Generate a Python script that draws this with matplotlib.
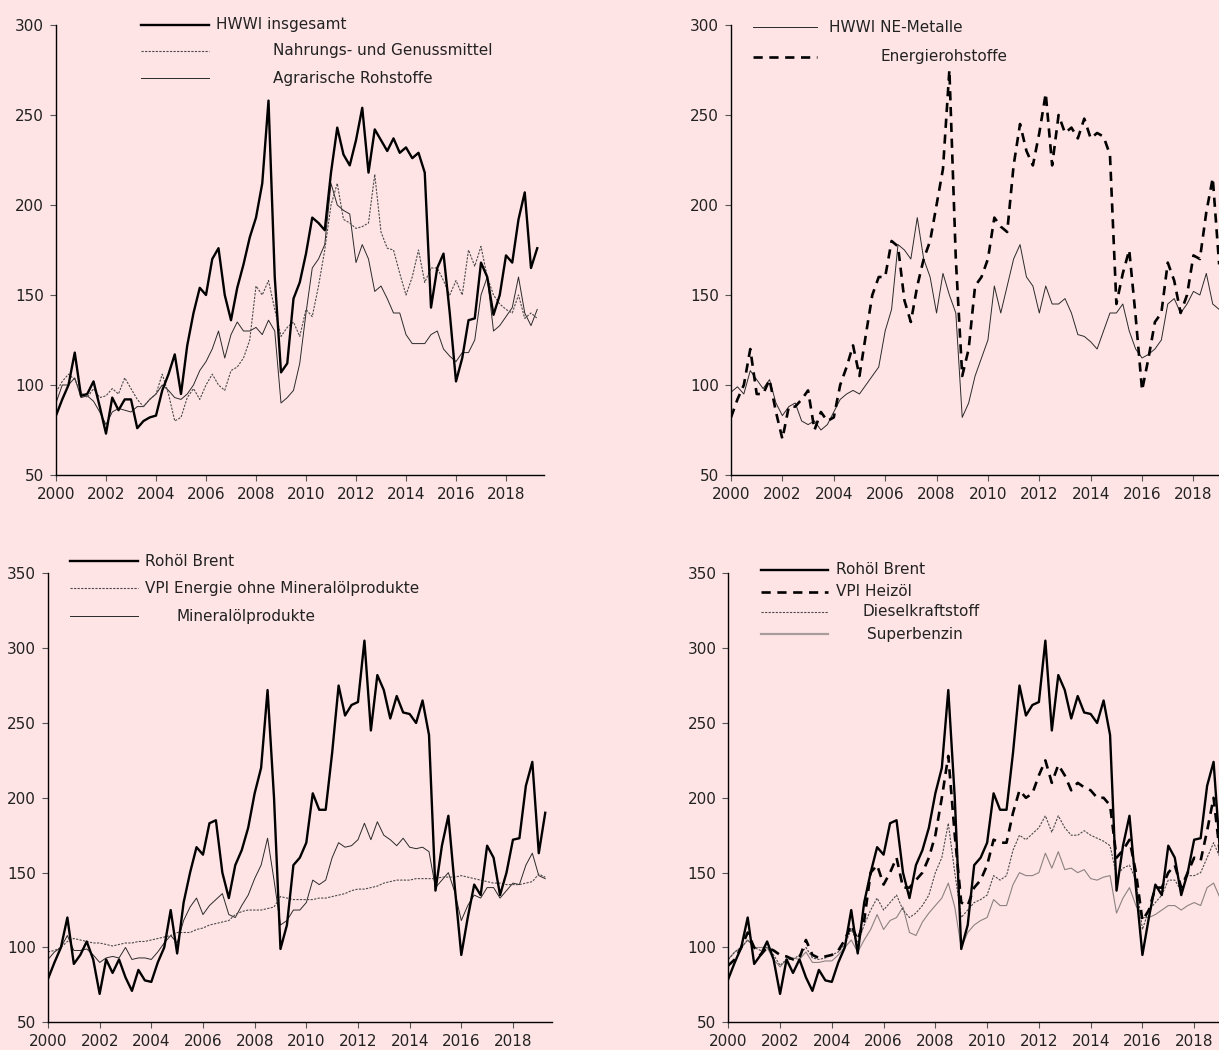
import matplotlib
matplotlib.use("Agg")
import matplotlib.pyplot as plt
from matplotlib.lines import Line2D
import numpy as np

# quarterly index values, starting 2000 Q1
hwwi_total = [83, 92, 100, 118, 94, 95, 102, 88, 73, 93, 86, 92, 92, 76, 80, 82,
              83, 97, 106, 117, 95, 122, 140, 154, 150, 170, 176, 150, 136, 154, 167, 182,
              193, 212, 258, 160, 107, 112, 148, 157, 173, 193, 190, 186, 218, 243, 228, 222,
              236, 254, 218, 242, 236, 230, 237, 229, 232, 226, 229, 218, 143, 165, 173, 140,
              102, 115, 136, 137, 168, 160, 139, 150, 172, 168, 192, 207, 165, 176]
food = [96, 102, 106, 103, 96, 93, 98, 93, 94, 98, 95, 104, 98, 92, 88, 92,
        95, 106, 95, 80, 82, 93, 98, 92, 100, 106, 100, 97, 108, 110, 115, 125,
        155, 150, 158, 142, 127, 132, 135, 127, 142, 138, 155, 175, 200, 212, 192, 190,
        187, 188, 190, 217, 185, 176, 175, 162, 150, 160, 175, 157, 165, 165, 158, 150,
        158, 150, 175, 166, 177, 160, 150, 145, 142, 140, 150, 137, 140, 137]
agrar = [90, 100, 100, 104, 93, 94, 91, 85, 78, 85, 87, 86, 85, 88, 88, 92,
         95, 100, 97, 93, 92, 95, 100, 108, 113, 120, 130, 115, 128, 135, 130, 130,
         132, 128, 136, 130, 90, 93, 97, 112, 140, 165, 170, 178, 212, 200, 197, 195,
         168, 178, 170, 152, 155, 148, 140, 140, 128, 123, 123, 123, 128, 130, 120, 116,
         113, 118, 118, 125, 150, 160, 130, 133, 138, 143, 160, 140, 133, 142]

ne_metals = [96, 99, 95, 108, 103, 98, 103, 90, 83, 88, 90, 80, 78, 80, 75, 78,
             85, 92, 95, 97, 95, 100, 105, 110, 130, 142, 178, 175, 170, 193, 170, 160,
             140, 162, 150, 140, 82, 90, 105, 115, 125, 155, 140, 155, 170, 178, 160, 155,
             140, 155, 145, 145, 148, 140, 128, 127, 124, 120, 130, 140, 140, 145, 130, 120,
             115, 117, 120, 125, 145, 148, 140, 145, 152, 150, 162, 145, 142]
energy = [82, 92, 100, 120, 95, 95, 103, 85, 70, 88, 88, 92, 97, 75, 85, 80,
          82, 100, 110, 122, 105, 128, 150, 160, 160, 180, 177, 147, 135, 155, 170, 180,
          200, 220, 275, 170, 105, 120, 155, 160, 170, 193, 188, 185, 222, 245, 230, 222,
          240, 262, 222, 250, 240, 243, 237, 248, 237, 240, 238, 228, 145, 162, 175, 138,
          97, 115, 135, 140, 168, 158, 140, 150, 172, 170, 196, 215, 167]

brent = [79, 90, 100, 120, 89, 95, 104, 92, 69, 92, 83, 92, 80, 71, 85, 78,
         77, 90, 100, 125, 96, 130, 150, 167, 162, 183, 185, 150, 133, 155, 165, 180,
         203, 220, 272, 200, 99, 115, 155, 160, 170, 203, 192, 192, 230, 275, 255, 262,
         264, 305, 245, 282, 272, 253, 268, 257, 256, 250, 265, 242, 138, 168, 188, 140,
         95, 120, 142, 135, 168, 160, 135, 150, 172, 173, 208, 224, 163, 190]
vpi_energy = [97, 98, 100, 104, 106, 105, 104, 103, 103, 102, 101, 102, 103, 103, 104, 104,
              105, 106, 107, 108, 110, 110, 110, 112, 113, 115, 116, 117, 118, 122, 124, 125,
              125, 125, 126, 127, 134, 133, 132, 132, 132, 132, 133, 133, 134, 135, 136, 138,
              139, 139, 140, 141, 143, 144, 145, 145, 145, 146, 146, 146, 146, 147, 147, 147,
              148, 147, 146, 145, 144, 143, 143, 142, 142, 142, 143, 144, 149, 147]
mineral_oil = [92, 97, 100, 108, 98, 98, 99, 95, 90, 93, 94, 93, 100, 92, 93, 93,
               92, 97, 103, 108, 103, 118, 127, 133, 122, 128, 132, 136, 122, 120, 128, 135,
               146, 155, 173, 145, 115, 118, 125, 125, 130, 145, 142, 145, 160, 170, 167, 168,
               172, 183, 172, 184, 175, 172, 168, 173, 167, 166, 167, 164, 140, 145, 150, 137,
               118, 128, 135, 133, 140, 140, 133, 138, 143, 142, 155, 163, 148, 146]

heating_oil = [88, 92, 100, 110, 100, 95, 100, 98, 95, 94, 92, 93, 105, 95, 93, 94,
               95, 98, 105, 115, 105, 118, 150, 155, 142, 150, 160, 140, 140, 145, 150, 160,
               175, 200, 228, 175, 130, 128, 140, 145, 155, 172, 170, 170, 190, 205, 200, 203,
               215, 225, 210, 222, 215, 205, 210, 207, 205, 200, 200, 195, 160, 165, 172, 150,
               118, 125, 140, 140, 150, 155, 140, 150, 160, 158, 178, 200, 162]
diesel = [92, 97, 100, 105, 100, 98, 100, 95, 88, 92, 92, 95, 100, 93, 92, 93,
          95, 97, 102, 112, 103, 115, 125, 133, 125, 130, 135, 125, 120, 123, 128, 135,
          150, 160, 183, 150, 120, 125, 130, 132, 135, 148, 145, 148, 165, 175, 172, 176,
          180, 188, 177, 188, 180, 175, 175, 178, 175, 173, 171, 168, 148, 153, 155, 145,
          112, 125, 130, 135, 145, 145, 138, 148, 148, 150, 160, 170, 160]
petrol = [92, 97, 100, 105, 100, 100, 100, 92, 87, 92, 93, 92, 97, 90, 90, 91,
          91, 95, 100, 105, 97, 105, 112, 122, 112, 118, 120, 127, 110, 108, 117, 123,
          128, 133, 143, 127, 100, 110, 115, 118, 120, 132, 128, 128, 142, 150, 148, 148,
          150, 163, 153, 164, 152, 153, 150, 152, 146, 145, 147, 148, 123, 133, 140, 128,
          120, 120, 122, 125, 128, 128, 125, 128, 130, 128, 140, 143, 133]

year_ticks = list(range(2000, 2019, 2))

BG = "#FFE4E6"
W, H = 1219, 1050
FS = 11

thick = dict(color="black", lw=1.7, solid_joinstyle="round")
thin = dict(color="#2a2a2a", lw=0.7)
dotted = dict(color="#4a4a4a", lw=0.8, dashes=(2.0, 1.2))
dashed = dict(color="black", lw=1.9, dashes=(3.5, 2.5))
grey = dict(color="#8c8282", lw=0.8)

plt.rcParams["font.family"] = ["DejaVu Sans"]
plt.rcParams["font.size"] = FS

fig = plt.figure(figsize=(W / 100, H / 100), dpi=100, facecolor=BG)


def px_axes(x0, y0, x1, y1):
    # pixel box (top-left origin) -> figure fraction
    return fig.add_axes([x0 / W, 1 - y1 / H, (x1 - x0) / W, (y1 - y0) / H])


def style(ax, ymax):
    ax.set_facecolor(BG)
    ax.set_xlim(2000, 2019.5)
    ax.set_ylim(50, ymax)
    ax.set_yticks(range(50, ymax + 1, 50))
    ax.set_xticks(year_ticks)
    for s in ("top", "right"):
        ax.spines[s].set_visible(False)
    for s in ("left", "bottom"):
        ax.spines[s].set_linewidth(1.0)
    ax.tick_params(direction="out", length=4.5, width=0.8, color="#555555",
                   labelcolor="#222222", labelsize=FS, pad=4)


def qx(values):
    return 2000 + np.arange(len(values)) / 4


def legend_row(x0, x1, xt, y, label, kw):
    fig.add_artist(Line2D([x0 / W, x1 / W], [1 - y / H, 1 - y / H], **kw))
    fig.text(xt / W, 1 - y / H, label, va="center", ha="left", color="#222222", fontsize=FS)


# top left
ax1 = px_axes(56, 25, 543.5, 475)
style(ax1, 300)
ax1.plot(qx(agrar), agrar, **thin)
ax1.plot(qx(food), food, **dotted)
ax1.plot(qx(hwwi_total), hwwi_total, **thick)
legend_row(141, 209, 216, 25, "HWWI insgesamt", thick)
legend_row(141, 209, 273, 51, "Nahrungs- und Genussmittel", dotted)
legend_row(141, 209, 273, 78, "Agrarische Rohstoffe", thin)

# top right (cropped at figure edge)
ax2 = px_axes(731, 25, 1232, 475)
style(ax2, 300)
ax2.plot(qx(ne_metals), ne_metals, **thin)
ax2.plot(qx(energy), energy, **dashed)
legend_row(753, 817, 829, 27, "HWWI NE-Metalle", thin)
legend_row(753, 817, 881, 57, "Energierohstoffe", dashed)

# bottom left
ax3 = px_axes(48, 573.3, 551.7, 1022.3)
style(ax3, 350)
ax3.plot(qx(mineral_oil), mineral_oil, **thin)
ax3.plot(qx(vpi_energy), vpi_energy, **dotted)
ax3.plot(qx(brent), brent, **thick)
legend_row(70, 138, 145, 561, "Rohöl Brent", thick)
legend_row(70, 138, 145, 588, "VPI Energie ohne Mineralölprodukte", dotted)
legend_row(70, 138, 176, 616, "Mineralölprodukte", thin)

# bottom right (cropped at figure edge)
ax4 = px_axes(728.3, 573.3, 1233, 1022.3)
style(ax4, 350)
ax4.plot(qx(petrol), petrol, **grey)
ax4.plot(qx(diesel), diesel, **dotted)
ax4.plot(qx(heating_oil), heating_oil, **dashed)
ax4.plot(qx(brent), brent, **thick)
legend_row(761, 828, 836, 570, "Rohöl Brent", thick)
legend_row(761, 828, 836, 592, "VPI Heizöl", dashed)
legend_row(761, 828, 863, 612, "Dieselkraftstoff", dotted)
legend_row(761, 828, 867, 634, "Superbenzin", dict(color="#a89c9c", lw=1.6))

fig.savefig("out.png", dpi=100, facecolor=BG)
